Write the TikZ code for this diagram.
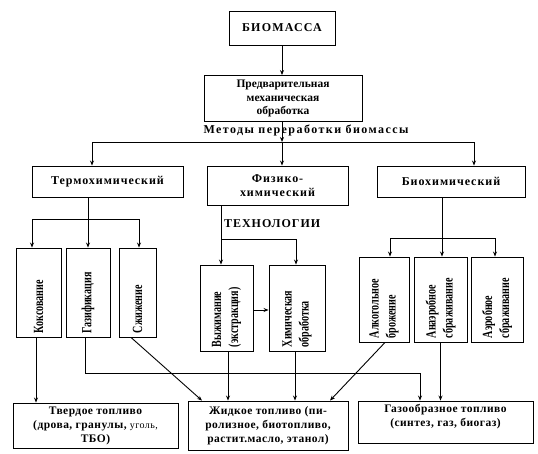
\documentclass[tikz,border=0pt]{standalone}
\usepackage{fontspec}
\setmainfont{Liberation Serif}
\newfontfamily\spA{Liberation Serif}[LetterSpace=10]
\newfontfamily\spB{Liberation Serif}[LetterSpace=8]
\newfontfamily\spC{Liberation Serif}[LetterSpace=12]
\newfontfamily\spE{Liberation Serif}[LetterSpace=4]
\newfontfamily\narrowf{Liberation Serif}[FakeStretch=0.72]
\usetikzlibrary{arrows.meta,calc}
\begin{document}
\begin{tikzpicture}[x=1pt,y=-1pt,
  box/.style={draw, line width=0.9pt, inner sep=1pt, align=center, font=\fontsize{12}{13.5}\spB\bfseries},
  lbox/.style={draw, line width=0.9pt, inner sep=1pt, align=center, font=\fontsize{11.5}{13.5}\selectfont\bfseries},
  fbox/.style={draw, line width=0.9pt, inner sep=1pt, align=center, font=\fontsize{11.5}{14}\spE\bfseries},
  vb/.style={draw, line width=0.9pt, inner sep=0pt},
  vt/.style={rotate=90, anchor=west, align=left, inner sep=0pt, font=\fontsize{14}{17}\narrowf\bfseries},
  ar/.style={-{Stealth[length=5pt,width=4pt]}, line width=0.9pt},
  ln/.style={line width=0.9pt}]
\useasboundingbox (0,0) rectangle (538,453);

% top
\node[box, font=\fontsize{12}{13.5}\spA\bfseries, minimum width=106, minimum height=34] (bio) at (282,28) {БИОМАССА};
\node[lbox, minimum width=158, minimum height=46] (pre) at (283,98.5) {Предварительная\\механическая\\обработка};
\node[font=\fontsize{12}{13.5}\spC\bfseries, inner sep=0pt] (met) at (306,130) {Методы переработки биомассы};

% methods
\node[box, minimum width=151, minimum height=31] (termo) at (107.5,181.5) {Термохимический};
\node[box, minimum width=141, minimum height=39] (phys) at (277.5,185.5) {Физико-\\химический};
\node[box, minimum width=148, minimum height=31] (biochem) at (451,181.5) {Биохимический};

\coordinate (j0) at (282,142);
\coordinate (jL) at (92,142);
\coordinate (jR) at (474,142);
\draw[ar] (bio) -- (bio |- pre.north);
\draw[ar] (pre.south -| j0) -- (j0);
\draw[ln] (jL) -- (jR);
\draw[ar] (jL) -- (jL |- termo.north);
\draw[ar] (jR) -- (jR |- biochem.north);
\draw[ar] (j0) -- (j0 |- phys.north);

% technology boxes
\node[vb, minimum width=45, minimum height=89] (koks) at (38.5,292.5) {};
\node[vb, minimum width=44, minimum height=89] (gaz) at (88,292.5) {};
\node[vb, minimum width=37, minimum height=89] (szh) at (137.5,292.5) {};
\node[vb, minimum width=53, minimum height=86] (vyzh) at (226.5,308) {};
\node[vb, minimum width=56, minimum height=86] (chem) at (297,308) {};
\node[vb, minimum width=50, minimum height=85] (alk) at (384,299.5) {};
\node[vb, minimum width=53, minimum height=85] (anaer) at (440.5,299.5) {};
\node[vb, minimum width=52, minimum height=85] (aer) at (497,299.5) {};

\node[vt] (koksT) at ([yshift=4pt]koks.south) {Коксование};
\node[vt] (gazT) at ([yshift=4pt]gaz.south) {Газификация};
\node[vt] (szhT) at ([yshift=4pt]szh.south) {Сжижение};
\node[vt] (vyzhT) at ([yshift=4pt]vyzh.south) {Выжимание\\(экстракция)};
\node[vt] (chemT) at ([yshift=4pt]chem.south) {Химическая\\обработка};
\node[vt] (alkT) at ([yshift=4pt]alk.south) {Алкогольное\\брожение};
\node[vt] (anaerT) at ([yshift=4pt]anaer.south) {Анаэробное\\сбраживание};
\node[vt] (aerT) at ([yshift=4pt]aer.south) {Аэробное\\сбраживание};

\node[anchor=west, inner sep=0pt, font=\fontsize{12}{13.5}\spB\bfseries] (tech) at (224,224) {ТЕХНОЛОГИИ};

% thermo branch
\coordinate (t0) at (88,219);
\coordinate (tL) at (32,219);
\coordinate (tR) at (139,219);
\draw[ln] (termo.south -| t0) -- (t0);
\draw[ln] (tL) -- (tR);
\draw[ar] (tL) -- (tL |- koks.north);
\draw[ar] (t0) -- (t0 |- gaz.north);
\draw[ar] (tR) -- (tR |- szh.north);

% physico-chemical branch
\coordinate (p0) at (221,239);
\coordinate (pR) at (296,239);
\draw[ln] (phys.south -| p0) -- (p0) -- (pR);
\draw[ar] (p0) -- (p0 |- vyzh.north);
\draw[ar] (pR) -- (pR |- chem.north);
\draw[ar] ([yshift=-2pt]vyzh.east) -- ([yshift=-2pt]chem.west);

% biochemical branch
\coordinate (b0) at (442,238);
\coordinate (bL) at (390,238);
\coordinate (bR) at (495,238);
\draw[ln] (biochem.south -| b0) -- (b0);
\draw[ln] (bL) -- (bR);
\draw[ar] (bL) -- (bL |- alk.north);
\draw[ar] (b0) -- (b0 |- anaer.north);
\draw[ar] (bR) -- (bR |- aer.north);

% products
\node[fbox, minimum width=165, minimum height=45] (solid) at (95.5,425.5) {Твердое топливо\\(дрова, гранулы, {\mdseries\fontsize{10}{14}\selectfont уголь,}\\ТБО)};
\node[fbox, minimum width=160, minimum height=49] (liquid) at (268,425.5) {Жидкое топливо (пи-\\ролизное, биотопливо,\\растит.масло, этанол)};
\node[fbox, minimum width=175, minimum height=42, text depth=13pt] (gas) at (445.5,422) {Газообразное топливо\\(синтез, газ, биогаз)};

\coordinate (g1) at (85,373);
\coordinate (g2) at (420,373);
\draw[ar] ([xshift=-2.5pt]koks.south) -- ([xshift=-2.5pt]koks.south |- solid.north);
\draw[ar] (gaz.south -| g1) -- (g1) -- (g2) -- (g2 |- gas.north);
\draw[ar] ([xshift=-6.5pt]szh.south) -- ([xshift=-66pt]liquid.north);
\draw[ar] ([xshift=1.5pt]vyzh.south) -- ([xshift=1.5pt]vyzh.south |- liquid.north);
\draw[ar] ([xshift=-2pt]chem.south) -- ([xshift=-2pt]chem.south |- liquid.north);
\draw[ar] ([xshift=1pt]alk.south) -- ([xshift=62pt]liquid.north);
\draw[ar] (anaer.south) -- (anaer.south |- gas.north);
\end{tikzpicture}
\end{document}
